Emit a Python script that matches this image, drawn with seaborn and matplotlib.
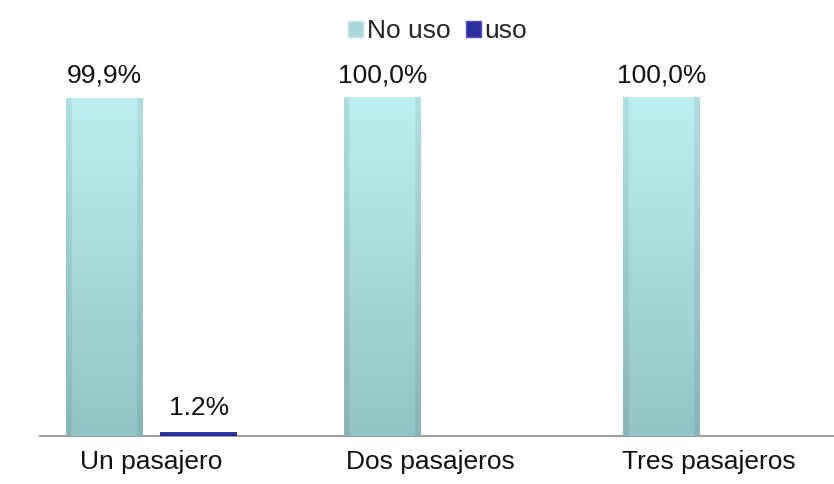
import numpy as np
import pandas as pd
import seaborn as sns
import matplotlib.pyplot as plt
from matplotlib.colors import to_rgb
from matplotlib.patches import Patch

# Datos
categorias = ["Un pasajero", "Dos pasajeros", "Tres pasajeros"]
no_uso = [99.9, 100.0, 100.0]
uso = [1.2, np.nan, np.nan]
etiquetas_no_uso = ["99,9%", "100,0%", "100,0%"]
etiquetas_uso = ["1.2%", "", ""]
series = ["No uso", "uso"]

df = pd.DataFrame({
    "categoria": categorias * 2,
    "serie": ["No uso"] * 3 + ["uso"] * 3,
    "valor": no_uso + uso,
})

sns.set_theme(style="white")
plt.rcParams['font.family'] = ['Liberation Sans', 'DejaVu Sans']

colores = {"No uso": "#aadcdf", "uso": "#2e2e9c"}

fig = plt.figure(figsize=(8.34, 4.84), dpi=100)
ax = fig.add_axes([0.048, 0.099, 0.952, 0.700])

sns.barplot(data=df, x="categoria", y="valor", hue="serie", order=categorias,
            hue_order=series, palette=colores, width=0.68, gap=0.19,
            edgecolor="none", linewidth=0, legend=False, ax=ax)


def gradiente(c_arriba, c_abajo, n=64):
    t = np.linspace(0, 1, n)[:, None, None]
    arriba = np.array(to_rgb(c_arriba))[None, None, :]
    abajo = np.array(to_rgb(c_abajo))[None, None, :]
    img = arriba * (1 - t) + abajo * t
    img = np.repeat(img, 40, axis=1)
    # bordes laterales algo más oscuros
    xs = np.linspace(-1, 1, 40)
    sombra = 1 - 0.07 * (np.abs(xs) > 0.85)
    return np.clip(img * sombra[None, :, None], 0, 1)


img_no_uso = gradiente("#bdeff1", "#93c3c6")
img_uso = gradiente("#4444bb", "#24248c")

for p in list(ax.patches):
    x0, y0 = p.get_x(), p.get_y()
    w, h = p.get_width(), p.get_height()
    if np.isnan(h) or h <= 0:
        continue
    centro = x0 + w / 2
    # la serie "uso" queda a la derecha del centro de la categoría
    img = img_uso if centro > round(centro) else img_no_uso
    im = ax.imshow(img, extent=[x0, x0 + w, y0, y0 + h], aspect="auto",
                   origin="upper", zorder=3, interpolation="bilinear")
    im.set_clip_path(p)
    p.set_zorder(2)

ax.set_xlim(-0.40, 2.45)
ax.set_ylim(0, 100)

# Etiquetas de datos
desp = 0.34 / 2
for i, cat in enumerate(categorias):
    ax.annotate(etiquetas_no_uso[i], (i - desp, no_uso[i]), xytext=(0, 11),
                textcoords="offset points", ha="center", va="baseline",
                fontsize=19, color="#111111", annotation_clip=False)
    if etiquetas_uso[i]:
        ax.annotate(etiquetas_uso[i], (i + desp, uso[i]), xytext=(0, 12),
                    textcoords="offset points", ha="center", va="baseline",
                    fontsize=19, color="#111111", annotation_clip=False)

# Ejes
for s in ["top", "left", "right"]:
    ax.spines[s].set_visible(False)
ax.spines["bottom"].set_color("#a0a0a0")
ax.spines["bottom"].set_linewidth(1.5)
ax.set_yticks([])
ax.set_xlabel("")
ax.set_ylabel("")
ax.tick_params(axis="x", length=0, pad=10, labelsize=19, labelcolor="#111111")

# Leyenda
handles = [Patch(facecolor="#a8d6d9", edgecolor="#c8e4e6"),
           Patch(facecolor="#2e2e9c", edgecolor="#5050c0")]
fig.legend(handles, series, loc="upper center", bbox_to_anchor=(0.525, 1.01),
           ncol=2, frameon=False, fontsize=19, handlelength=0.55,
           handleheight=0.55, handletextpad=0.15, columnspacing=0.6)

fig.savefig("out.png", dpi=100)
